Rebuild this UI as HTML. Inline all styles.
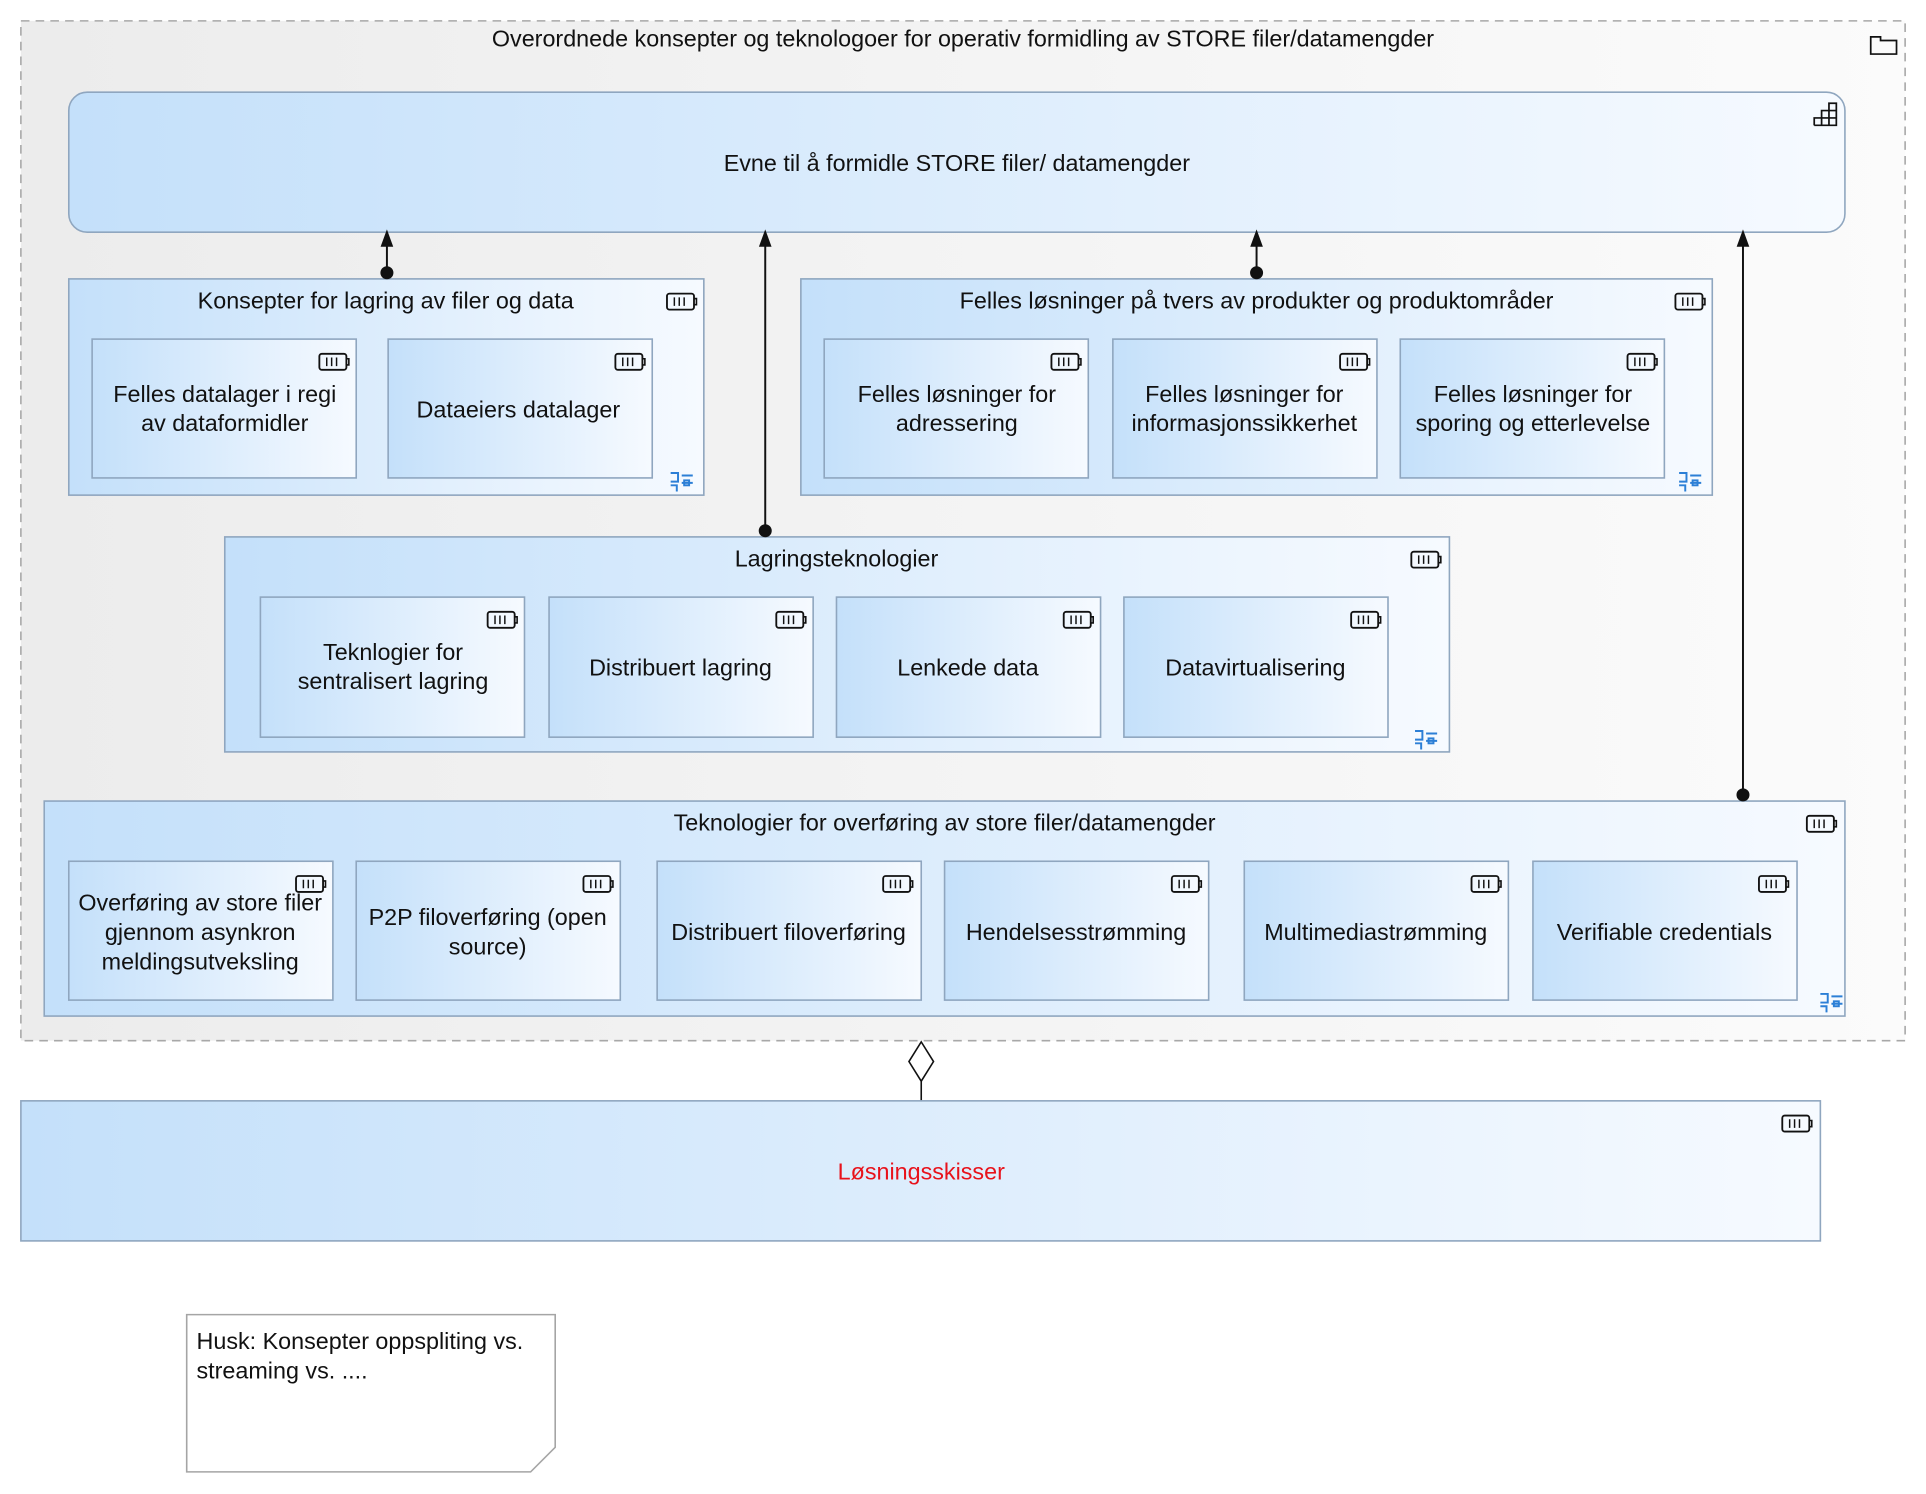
<!DOCTYPE html>
<html><head><meta charset="utf-8"><style>
html,body{margin:0;padding:0;background:#fff;}
svg{display:block;}
text{font-family:"Liberation Sans",sans-serif;font-size:19px;fill:#111;}
</style></head><body>
<svg width="1926" height="1494" viewBox="0 0 1568 1216" preserveAspectRatio="none" xmlns="http://www.w3.org/2000/svg">
<defs>
<linearGradient id="g" x1="0" x2="1" y1="0" y2="0"><stop offset="0" stop-color="#c4e0fa"/><stop offset="1" stop-color="#f6faff"/></linearGradient>
<linearGradient id="gg" x1="0" x2="1"><stop offset="0" stop-color="#ececec"/><stop offset="1" stop-color="#fbfbfb"/></linearGradient>
<g id="bat"><rect x="0" y="0" width="22" height="13" rx="2" fill="none" stroke="#111" stroke-width="1.5"/><path d="M22 4 h2 v5 h-2" fill="none" stroke="#111" stroke-width="1.3"/><path d="M6 3v7M10 3v7M14 3v7" stroke="#111" stroke-width="1.2"/></g>
<g id="comp" stroke="#2c7fd6" stroke-width="1.6" fill="none"><path d="M0 0h6v7h-6"/><path d="M9 2h9M9 8h9M0 10h5v5"/><rect x="11" y="6" width="4" height="4"/></g>
</defs>
<rect x="17" y="17" width="1534" height="830" fill="url(#gg)" stroke="#a8a8a8" stroke-width="1.3" stroke-dasharray="7,5"/>
<text x="784" y="38" text-anchor="middle">Overordnede konsepter og teknologoer for operativ formidling av STORE filer/datamengder</text>
<path d="M1523 30h8v3h13v11h-21z" fill="none" stroke="#111" stroke-width="1.4"/>
<rect x="56" y="75" width="1446" height="114" rx="15" fill="url(#g)" stroke="#8fa6bf" stroke-width="1.3"/>
<text x="779" y="139" text-anchor="middle">Evne til å formidle STORE filer/ datamengder</text>
<path d="M1477 102h18v-18h-6v18M1477 102v-6h18M1483 102v-12h12" fill="none" stroke="#111" stroke-width="1.4"/>

<rect x="56" y="227" width="517" height="176" fill="url(#g)" stroke="#8fa6bf" stroke-width="1.3"/>
<text x="314" y="251" text-anchor="middle">Konsepter for lagring av filer og data</text>
<use href="#bat" x="543" y="239"/><use href="#comp" x="546" y="385"/>
<rect x="75" y="276" width="215" height="113" fill="url(#g)" stroke="#8fa6bf" stroke-width="1.3"/>
<use href="#bat" x="260" y="288"/>
<text x="183" y="327" text-anchor="middle">Felles datalager  i regi</text><text x="183" y="351" text-anchor="middle">av dataformidler</text>
<rect x="316" y="276" width="215" height="113" fill="url(#g)" stroke="#8fa6bf" stroke-width="1.3"/>
<use href="#bat" x="501" y="288"/>
<text x="422" y="340" text-anchor="middle">Dataeiers datalager</text>

<rect x="652" y="227" width="742" height="176" fill="url(#g)" stroke="#8fa6bf" stroke-width="1.3"/>
<text x="1023" y="251" text-anchor="middle">Felles løsninger på tvers av produkter og produktområder</text>
<use href="#bat" x="1364" y="239"/><use href="#comp" x="1367" y="385"/>
<rect x="671" y="276" width="215" height="113" fill="url(#g)" stroke="#8fa6bf" stroke-width="1.3"/><use href="#bat" x="856" y="288"/>
<text x="779" y="327" text-anchor="middle">Felles løsninger for</text><text x="779" y="351" text-anchor="middle">adressering</text>
<rect x="906" y="276" width="215" height="113" fill="url(#g)" stroke="#8fa6bf" stroke-width="1.3"/><use href="#bat" x="1091" y="288"/>
<text x="1013" y="327" text-anchor="middle">Felles løsninger for</text><text x="1013" y="351" text-anchor="middle">informasjonssikkerhet</text>
<rect x="1140" y="276" width="215" height="113" fill="url(#g)" stroke="#8fa6bf" stroke-width="1.3"/><use href="#bat" x="1325" y="288"/>
<text x="1248" y="327" text-anchor="middle">Felles løsninger for</text><text x="1248" y="351" text-anchor="middle">sporing og etterlevelse</text>

<rect x="183" y="437" width="997" height="175" fill="url(#g)" stroke="#8fa6bf" stroke-width="1.3"/>
<text x="681" y="461" text-anchor="middle">Lagringsteknologier</text>
<use href="#bat" x="1149" y="449"/><use href="#comp" x="1152" y="595"/>
<rect x="212" y="486" width="215" height="114" fill="url(#g)" stroke="#8fa6bf" stroke-width="1.3"/><use href="#bat" x="397" y="498"/>
<text x="320" y="537" text-anchor="middle">Teknlogier for</text><text x="320" y="561" text-anchor="middle">sentralisert lagring</text>
<rect x="447" y="486" width="215" height="114" fill="url(#g)" stroke="#8fa6bf" stroke-width="1.3"/><use href="#bat" x="632" y="498"/>
<text x="554" y="550" text-anchor="middle">Distribuert lagring</text>
<rect x="681" y="486" width="215" height="114" fill="url(#g)" stroke="#8fa6bf" stroke-width="1.3"/><use href="#bat" x="866" y="498"/>
<text x="788" y="550" text-anchor="middle">Lenkede data</text>
<rect x="915" y="486" width="215" height="114" fill="url(#g)" stroke="#8fa6bf" stroke-width="1.3"/><use href="#bat" x="1100" y="498"/>
<text x="1022" y="550" text-anchor="middle">Datavirtualisering</text>

<rect x="36" y="652" width="1466" height="175" fill="url(#g)" stroke="#8fa6bf" stroke-width="1.3"/>
<text x="769" y="676" text-anchor="middle">Teknologier for overføring av store  filer/datamengder</text>
<use href="#bat" x="1471" y="664"/><use href="#comp" x="1482" y="809"/>
<rect x="56" y="701" width="215" height="113" fill="url(#g)" stroke="#8fa6bf" stroke-width="1.3"/><use href="#bat" x="241" y="713"/>
<text x="163" y="741" text-anchor="middle">Overføring av store filer</text><text x="163" y="765" text-anchor="middle">gjennom asynkron</text><text x="163" y="789" text-anchor="middle">meldingsutveksling</text>
<rect x="290" y="701" width="215" height="113" fill="url(#g)" stroke="#8fa6bf" stroke-width="1.3"/><use href="#bat" x="475" y="713"/>
<text x="397" y="753" text-anchor="middle">P2P filoverføring (open</text><text x="397" y="777" text-anchor="middle">source)</text>
<rect x="535" y="701" width="215" height="113" fill="url(#g)" stroke="#8fa6bf" stroke-width="1.3"/><use href="#bat" x="719" y="713"/>
<text x="642" y="765" text-anchor="middle">Distribuert filoverføring</text>
<rect x="769" y="701" width="215" height="113" fill="url(#g)" stroke="#8fa6bf" stroke-width="1.3"/><use href="#bat" x="954" y="713"/>
<text x="876" y="765" text-anchor="middle">Hendelsesstrømming</text>
<rect x="1013" y="701" width="215" height="113" fill="url(#g)" stroke="#8fa6bf" stroke-width="1.3"/><use href="#bat" x="1198" y="713"/>
<text x="1120" y="765" text-anchor="middle">Multimediastrømming</text>
<rect x="1248" y="701" width="215" height="113" fill="url(#g)" stroke="#8fa6bf" stroke-width="1.3"/><use href="#bat" x="1432" y="713"/>
<text x="1355" y="765" text-anchor="middle">Verifiable credentials</text>

<g stroke="#111" stroke-width="1.6" fill="#111">
<line x1="315" y1="222" x2="315" y2="196"/><path d="M311 200 L315 189 L319 200Z"/><circle cx="315" cy="222" r="4.5"/>
<line x1="623" y1="432" x2="623" y2="196"/><path d="M619 200 L623 189 L627 200Z"/><circle cx="623" cy="432" r="4.5"/>
<line x1="1023" y1="222" x2="1023" y2="196"/><path d="M1019 200 L1023 189 L1027 200Z"/><circle cx="1023" cy="222" r="4.5"/>
<line x1="1419" y1="647" x2="1419" y2="196"/><path d="M1415 200 L1419 189 L1423 200Z"/><circle cx="1419" cy="647" r="4.5"/>
</g>
<path d="M750 848 L760 864 L750 880 L740 864Z" fill="#fff" stroke="#111" stroke-width="1.3"/>
<line x1="750" y1="880" x2="750" y2="896" stroke="#111" stroke-width="1.3"/>

<rect x="17" y="896" width="1465" height="114" fill="url(#g)" stroke="#8fa6bf" stroke-width="1.3"/>
<use href="#bat" x="1451" y="908"/>
<text x="750" y="960" text-anchor="middle" style="fill:#e8121b">Løsningsskisser</text>

<path d="M152 1070 H452 V1178 L432 1198 H152Z" fill="#fff" stroke="#a5a5a5" stroke-width="1.3"/>
<text x="160" y="1098">Husk: Konsepter oppspliting vs.</text>
<text x="160" y="1122">streaming vs.  ....</text>
</svg>
</body></html>
